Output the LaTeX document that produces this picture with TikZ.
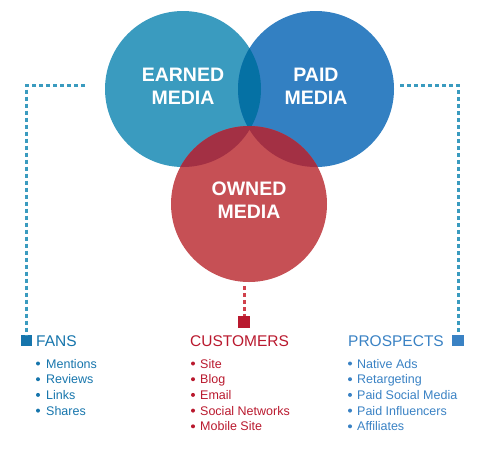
\documentclass[tikz,border=0pt]{standalone}
\usepackage{fontspec}
\setmainfont{Liberation Sans}
\usetikzlibrary{positioning}

\definecolor{earnedfill}{HTML}{3A9BBF}
\definecolor{paidfill}{HTML}{3380C2}
\definecolor{lensfill}{HTML}{0571A4}
\definecolor{ownedfill}{HTML}{C65055}
\definecolor{redlens}{HTML}{A33044}
\definecolor{dotteal}{HTML}{3A9BBF}
\definecolor{dotred}{HTML}{D0414C}
\definecolor{fanscol}{HTML}{1675AC}
\definecolor{custcol}{HTML}{B9192E}
\definecolor{proscol}{HTML}{3A82C4}

\tikzset{
  venn/.style={circle, minimum size=156pt, inner sep=0pt},
  vennlabel/.style={text=white, align=center, inner sep=0pt,
    font=\bfseries\fontsize{19.5}{23.5}\selectfont},
  dotline/.style={line width=3pt, dash pattern=on 4pt off 3pt},
  marker/.style={minimum size=11.5pt, inner sep=0pt},
  heading/.style={anchor=base west, inner sep=0pt, font=\fontsize{15.5}{18}\selectfont},
  entry/.style={anchor=base west, inner sep=0pt, font=\fontsize{12.5}{15}\selectfont},
}

\begin{document}
\begin{tikzpicture}[x=1pt,y=-1pt]
\useasboundingbox (0,0) rectangle (500,456);

% the three circles
\node[venn, fill=earnedfill] (earned) at (183,89) {};
\node[venn, fill=paidfill] (paid) at (316,89) {};
\begin{scope}
  \clip (earned.center) circle (78);
  \fill[lensfill] (paid.center) circle (78);
\end{scope}
\node[venn, fill=ownedfill] (owned) at (249,204) {};
\begin{scope}
  \clip (owned.center) circle (78);
  \fill[redlens] (earned.center) circle (78);
  \fill[redlens] (paid.center) circle (78);
\end{scope}

\node[vennlabel] (earnedtxt) at (183,86.5) {EARNED\\MEDIA};
\node[vennlabel] (paidtxt) at (316,86.5) {PAID\\MEDIA};
\node[vennlabel] (ownedtxt) at (249,200) {OWNED\\MEDIA};

% markers and headings
\node[marker, fill=fanscol] (fanssq) at (26.5,340.5) {};
\node[marker, fill=custcol] (custsq) at (244,322) {};
\node[marker, fill=proscol] (prossq) at (458,340.5) {};

\node[heading, text=fanscol] (fans) at (36,346) {FANS};
\node[heading, text=custcol] (cust) at (190,346) {CUSTOMERS};
\node[heading, text=proscol] (pros) at (348,346) {PROSPECTS};

% dotted connectors
\coordinate (earnedtap) at (85,85);
\coordinate (paidtap) at (400,85);
\coordinate (ownedtap) at (244,286);
\draw[dotline, dotteal] (earnedtap) -| (fanssq.north);
\draw[dotline, dotteal] (paidtap) -| (prossq.north);
\draw[dotline, dotred] (ownedtap) -- (custsq.north);

% lists
\foreach \txt [count=\i] in {Mentions,Reviews,Links,Shares} {
  \fill[fanscol] (38,{363.5+15.7*(\i-1)}) circle (2);
  \node[entry, text=fanscol] (fans-\i) at (46,{368+15.7*(\i-1)}) {\txt};
}
\foreach \txt [count=\i] in {Site,Blog,Email,Social Networks,Mobile Site} {
  \fill[custcol] (193,{363.5+15.7*(\i-1)}) circle (2);
  \node[entry, text=custcol] (cust-\i) at (200,{368+15.7*(\i-1)}) {\txt};
}
\foreach \txt [count=\i] in {Native Ads,Retargeting,Paid Social Media,Paid Influencers,Affiliates} {
  \fill[proscol] (350,{363.5+15.7*(\i-1)}) circle (2);
  \node[entry, text=proscol] (pros-\i) at (357,{368+15.7*(\i-1)}) {\txt};
}
\end{tikzpicture}
\end{document}
